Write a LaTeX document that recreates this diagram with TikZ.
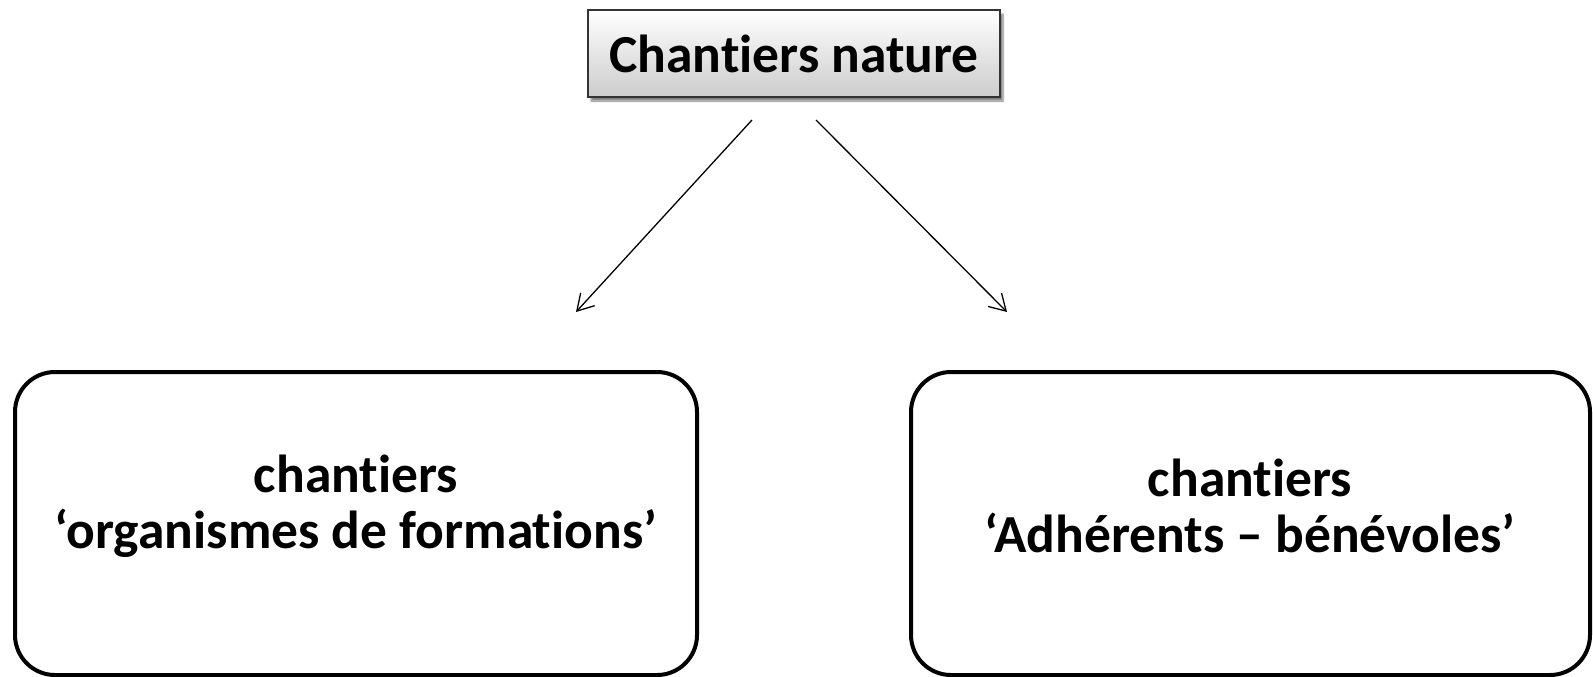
\documentclass[tikz,border=0pt]{standalone}
\usepackage{fontspec}
\setmainfont[Ligatures={NoCommon}]{Carlito}
\usetikzlibrary{arrows.meta,shadows.blur}
\begin{document}
\begin{tikzpicture}[x=1pt,y=-1pt,
  topbox/.style={draw=black!80,line width=1.5pt,top color=white,bottom color=black!20,
    minimum width=412pt,minimum height=87pt,inner sep=0pt,
    blur shadow={shadow xshift=3pt,shadow yshift=-4pt,shadow blur steps=6,shadow opacity=50}},
  bigbox/.style={draw=black,line width=4pt,rounded corners=40pt,inner sep=0pt},
  label/.style={font=\fontsize{53.5}{56}\selectfont\bfseries,align=center,inner sep=0pt},
  conn/.style={line width=1.3pt,-{Straight Barb[length=16pt,width=19pt,line width=1.3pt]}}]
\useasboundingbox (0,0) rectangle (1593,677);
\node[topbox,font=\fontsize{53.5}{56}\selectfont\bfseries] (top) at (794,53.5) {Chantiers nature};
\node[bigbox,minimum width=682pt,minimum height=303pt] (left) at (356,523.5) {};
\node[bigbox,minimum width=679pt,minimum height=303pt] (right) at (1250.5,523.5) {};
\node[label] (lt) at (356,506) {chantiers\\‘organismes de formations’};
\node[label] (rt) at (1250,506) {chantiers\\‘Adhérents – bénévoles’};
\coordinate (a1) at (752,120);
\coordinate (a2) at (576,312);
\coordinate (b1) at (816,120);
\coordinate (b2) at (1007,312);
\draw[conn] (a1) -- (a2);
\draw[conn] (b1) -- (b2);
\end{tikzpicture}
\end{document}
